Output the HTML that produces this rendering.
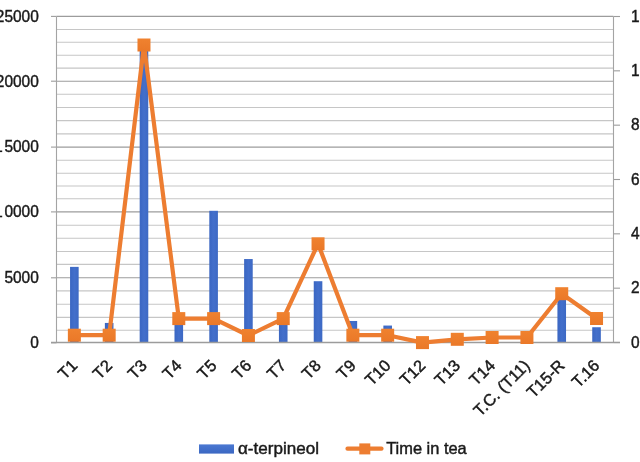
<!DOCTYPE html><html><head><meta charset="utf-8"><style>html,body{margin:0;padding:0;background:#fff;overflow:hidden}svg{display:block;filter:blur(0.35px)}</style></head><body><svg width="640" height="462" viewBox="0 0 640 462"><defs><linearGradient id="bg" x1="0" y1="0" x2="1" y2="0"><stop offset="0" stop-color="#3A66C2"/><stop offset="0.5" stop-color="#436FCB"/><stop offset="1" stop-color="#3D69C4"/></linearGradient><linearGradient id="lg" x1="0" y1="0" x2="0" y2="1"><stop offset="0" stop-color="#4A78D2"/><stop offset="1" stop-color="#3B67C2"/></linearGradient><linearGradient id="og" x1="0" y1="0" x2="0" y2="1"><stop offset="0" stop-color="#F0822F"/><stop offset="1" stop-color="#EA7828"/></linearGradient></defs><rect width="640" height="462" fill="#fff"/><line x1="56.5" x2="613.5" y1="330.30" y2="330.30" stroke="#C6C6C6" stroke-width="1.1"/><line x1="56.5" x2="613.5" y1="317.40" y2="317.40" stroke="#C6C6C6" stroke-width="1.1"/><line x1="56.5" x2="613.5" y1="304.30" y2="304.30" stroke="#C6C6C6" stroke-width="1.1"/><line x1="56.5" x2="613.5" y1="290.90" y2="290.90" stroke="#C6C6C6" stroke-width="1.1"/><line x1="56.5" x2="613.5" y1="277.80" y2="277.80" stroke="#9C9C9C" stroke-width="1.1"/><line x1="56.5" x2="613.5" y1="264.40" y2="264.40" stroke="#C6C6C6" stroke-width="1.1"/><line x1="56.5" x2="613.5" y1="251.50" y2="251.50" stroke="#C6C6C6" stroke-width="1.1"/><line x1="56.5" x2="613.5" y1="238.20" y2="238.20" stroke="#C6C6C6" stroke-width="1.1"/><line x1="56.5" x2="613.5" y1="225.20" y2="225.20" stroke="#C6C6C6" stroke-width="1.1"/><line x1="56.5" x2="613.5" y1="211.90" y2="211.90" stroke="#9C9C9C" stroke-width="1.1"/><line x1="56.5" x2="613.5" y1="198.80" y2="198.80" stroke="#C6C6C6" stroke-width="1.1"/><line x1="56.5" x2="613.5" y1="186.00" y2="186.00" stroke="#C6C6C6" stroke-width="1.1"/><line x1="56.5" x2="613.5" y1="173.20" y2="173.20" stroke="#C6C6C6" stroke-width="1.1"/><line x1="56.5" x2="613.5" y1="160.20" y2="160.20" stroke="#C6C6C6" stroke-width="1.1"/><line x1="56.5" x2="613.5" y1="147.10" y2="147.10" stroke="#9C9C9C" stroke-width="1.1"/><line x1="56.5" x2="613.5" y1="133.90" y2="133.90" stroke="#C6C6C6" stroke-width="1.1"/><line x1="56.5" x2="613.5" y1="120.60" y2="120.60" stroke="#C6C6C6" stroke-width="1.1"/><line x1="56.5" x2="613.5" y1="107.50" y2="107.50" stroke="#C6C6C6" stroke-width="1.1"/><line x1="56.5" x2="613.5" y1="94.30" y2="94.30" stroke="#C6C6C6" stroke-width="1.1"/><line x1="56.5" x2="613.5" y1="81.20" y2="81.20" stroke="#9C9C9C" stroke-width="1.1"/><line x1="56.5" x2="613.5" y1="68.10" y2="68.10" stroke="#C6C6C6" stroke-width="1.1"/><line x1="56.5" x2="613.5" y1="55.20" y2="55.20" stroke="#C6C6C6" stroke-width="1.1"/><line x1="56.5" x2="613.5" y1="42.20" y2="42.20" stroke="#C6C6C6" stroke-width="1.1"/><line x1="56.5" x2="613.5" y1="29.50" y2="29.50" stroke="#C6C6C6" stroke-width="1.1"/><line x1="56.5" x2="613.5" y1="16.40" y2="16.40" stroke="#9C9C9C" stroke-width="1.1"/><line x1="51" x2="56.5" y1="342.80" y2="342.80" stroke="#9C9C9C" stroke-width="1.1"/><line x1="51" x2="56.5" y1="277.80" y2="277.80" stroke="#9C9C9C" stroke-width="1.1"/><line x1="51" x2="56.5" y1="211.90" y2="211.90" stroke="#9C9C9C" stroke-width="1.1"/><line x1="51" x2="56.5" y1="147.10" y2="147.10" stroke="#9C9C9C" stroke-width="1.1"/><line x1="51" x2="56.5" y1="81.20" y2="81.20" stroke="#9C9C9C" stroke-width="1.1"/><line x1="51" x2="56.5" y1="16.40" y2="16.40" stroke="#9C9C9C" stroke-width="1.1"/><line x1="613.5" x2="620" y1="342.50" y2="342.50" stroke="#9C9C9C" stroke-width="1.1"/><line x1="613.5" x2="620" y1="288.17" y2="288.17" stroke="#9C9C9C" stroke-width="1.1"/><line x1="613.5" x2="620" y1="233.83" y2="233.83" stroke="#9C9C9C" stroke-width="1.1"/><line x1="613.5" x2="620" y1="179.50" y2="179.50" stroke="#9C9C9C" stroke-width="1.1"/><line x1="613.5" x2="620" y1="125.17" y2="125.17" stroke="#9C9C9C" stroke-width="1.1"/><line x1="613.5" x2="620" y1="70.83" y2="70.83" stroke="#9C9C9C" stroke-width="1.1"/><line x1="613.5" x2="620" y1="16.50" y2="16.50" stroke="#9C9C9C" stroke-width="1.1"/><line x1="56.5" x2="56.5" y1="16.5" y2="342.5" stroke="#A4A4A4" stroke-width="1.1"/><line x1="613.5" x2="613.5" y1="16.5" y2="342.5" stroke="#A4A4A4" stroke-width="1.1"/><rect x="70.06" y="266.87" width="8.6" height="75.63" fill="url(#bg)"/><rect x="104.87" y="322.94" width="8.6" height="19.56" fill="url(#bg)"/><rect x="139.68" y="45.19" width="8.6" height="297.31" fill="url(#bg)"/><rect x="174.49" y="321.64" width="8.6" height="20.86" fill="url(#bg)"/><rect x="209.31" y="210.80" width="8.6" height="131.70" fill="url(#bg)"/><rect x="244.12" y="259.04" width="8.6" height="83.46" fill="url(#bg)"/><rect x="278.93" y="324.24" width="8.6" height="18.26" fill="url(#bg)"/><rect x="313.74" y="281.21" width="8.6" height="61.29" fill="url(#bg)"/><rect x="348.56" y="320.98" width="8.6" height="21.52" fill="url(#bg)"/><rect x="383.37" y="325.55" width="8.6" height="16.95" fill="url(#bg)"/><rect x="557.43" y="295.56" width="8.6" height="46.94" fill="url(#bg)"/><rect x="592.24" y="327.24" width="8.6" height="15.26" fill="url(#bg)"/><line x1="51" x2="620" y1="342.5" y2="342.5" stroke="#9C9C9C" stroke-width="1.3"/><polyline points="74.36,335.20 109.17,335.20 143.98,45.00 178.79,318.60 213.61,318.60 248.42,335.50 283.23,318.60 318.04,243.80 352.86,335.20 387.67,335.20 422.48,342.60 457.29,339.30 492.11,337.50 526.92,337.50 561.73,293.70 596.54,318.50" fill="none" stroke="#ED7D31" stroke-width="4.2" stroke-linejoin="round"/><rect x="67.86" y="328.70" width="13" height="13" fill="url(#og)"/><rect x="102.67" y="328.70" width="13" height="13" fill="url(#og)"/><rect x="137.48" y="38.50" width="13" height="13" fill="url(#og)"/><rect x="172.29" y="312.10" width="13" height="13" fill="url(#og)"/><rect x="207.11" y="312.10" width="13" height="13" fill="url(#og)"/><rect x="241.92" y="329.00" width="13" height="13" fill="url(#og)"/><rect x="276.73" y="312.10" width="13" height="13" fill="url(#og)"/><rect x="311.54" y="237.30" width="13" height="13" fill="url(#og)"/><rect x="346.36" y="328.70" width="13" height="13" fill="url(#og)"/><rect x="381.17" y="328.70" width="13" height="13" fill="url(#og)"/><rect x="415.98" y="336.10" width="13" height="13" fill="url(#og)"/><rect x="450.79" y="332.80" width="13" height="13" fill="url(#og)"/><rect x="485.61" y="331.00" width="13" height="13" fill="url(#og)"/><rect x="520.42" y="331.00" width="13" height="13" fill="url(#og)"/><rect x="555.23" y="287.20" width="13" height="13" fill="url(#og)"/><rect x="590.04" y="312.00" width="13" height="13" fill="url(#og)"/><text x="38.8" y="347.70" text-anchor="end" textLength="8.6" lengthAdjust="spacingAndGlyphs" font-family='"Liberation Sans", sans-serif' font-size="17" fill="#1a1a1a" stroke="#1a1a1a" stroke-width="0.45">0</text><text x="38.8" y="282.50" text-anchor="end" textLength="34.4" lengthAdjust="spacingAndGlyphs" font-family='"Liberation Sans", sans-serif' font-size="17" fill="#1a1a1a" stroke="#1a1a1a" stroke-width="0.45">5000</text><rect x="0" y="215.70" width="2.2" height="1.6" fill="#1a1a1a"/><text x="38.8" y="217.30" text-anchor="end" textLength="34.4" lengthAdjust="spacingAndGlyphs" font-family='"Liberation Sans", sans-serif' font-size="17" fill="#1a1a1a" stroke="#1a1a1a" stroke-width="0.45">0000</text><rect x="0" y="150.50" width="2.2" height="1.6" fill="#1a1a1a"/><text x="38.8" y="152.10" text-anchor="end" textLength="34.4" lengthAdjust="spacingAndGlyphs" font-family='"Liberation Sans", sans-serif' font-size="17" fill="#1a1a1a" stroke="#1a1a1a" stroke-width="0.45">5000</text><text x="38.8" y="86.90" text-anchor="end" textLength="43.0" lengthAdjust="spacingAndGlyphs" font-family='"Liberation Sans", sans-serif' font-size="17" fill="#1a1a1a" stroke="#1a1a1a" stroke-width="0.45">20000</text><text x="38.8" y="21.70" text-anchor="end" textLength="43.0" lengthAdjust="spacingAndGlyphs" font-family='"Liberation Sans", sans-serif' font-size="17" fill="#1a1a1a" stroke="#1a1a1a" stroke-width="0.45">25000</text><text x="631.0" y="347.70" textLength="8.6" lengthAdjust="spacingAndGlyphs" font-family='"Liberation Sans", sans-serif' font-size="17" fill="#1a1a1a" stroke="#1a1a1a" stroke-width="0.45">0</text><text x="631.0" y="293.37" textLength="8.6" lengthAdjust="spacingAndGlyphs" font-family='"Liberation Sans", sans-serif' font-size="17" fill="#1a1a1a" stroke="#1a1a1a" stroke-width="0.45">2</text><text x="631.0" y="239.03" textLength="8.6" lengthAdjust="spacingAndGlyphs" font-family='"Liberation Sans", sans-serif' font-size="17" fill="#1a1a1a" stroke="#1a1a1a" stroke-width="0.45">4</text><text x="631.0" y="184.70" textLength="8.6" lengthAdjust="spacingAndGlyphs" font-family='"Liberation Sans", sans-serif' font-size="17" fill="#1a1a1a" stroke="#1a1a1a" stroke-width="0.45">6</text><text x="631.0" y="130.37" textLength="8.6" lengthAdjust="spacingAndGlyphs" font-family='"Liberation Sans", sans-serif' font-size="17" fill="#1a1a1a" stroke="#1a1a1a" stroke-width="0.45">8</text><text x="631.0" y="76.03" textLength="8.6" lengthAdjust="spacingAndGlyphs" font-family='"Liberation Sans", sans-serif' font-size="17" fill="#1a1a1a" stroke="#1a1a1a" stroke-width="0.45">1</text><text x="631.0" y="21.70" textLength="8.6" lengthAdjust="spacingAndGlyphs" font-family='"Liberation Sans", sans-serif' font-size="17" fill="#1a1a1a" stroke="#1a1a1a" stroke-width="0.45">1</text><text transform="translate(70.21,358.5) rotate(-45)" x="0" y="0" dy="11.5" text-anchor="end" font-family='"Liberation Sans", sans-serif' font-size="16.4" fill="#1a1a1a" stroke="#1a1a1a" stroke-width="0.45">T1</text><text transform="translate(105.02,358.5) rotate(-45)" x="0" y="0" dy="11.5" text-anchor="end" font-family='"Liberation Sans", sans-serif' font-size="16.4" fill="#1a1a1a" stroke="#1a1a1a" stroke-width="0.45">T2</text><text transform="translate(139.83,358.5) rotate(-45)" x="0" y="0" dy="11.5" text-anchor="end" font-family='"Liberation Sans", sans-serif' font-size="16.4" fill="#1a1a1a" stroke="#1a1a1a" stroke-width="0.45">T3</text><text transform="translate(174.64,358.5) rotate(-45)" x="0" y="0" dy="11.5" text-anchor="end" font-family='"Liberation Sans", sans-serif' font-size="16.4" fill="#1a1a1a" stroke="#1a1a1a" stroke-width="0.45">T4</text><text transform="translate(209.46,358.5) rotate(-45)" x="0" y="0" dy="11.5" text-anchor="end" font-family='"Liberation Sans", sans-serif' font-size="16.4" fill="#1a1a1a" stroke="#1a1a1a" stroke-width="0.45">T5</text><text transform="translate(244.27,358.5) rotate(-45)" x="0" y="0" dy="11.5" text-anchor="end" font-family='"Liberation Sans", sans-serif' font-size="16.4" fill="#1a1a1a" stroke="#1a1a1a" stroke-width="0.45">T6</text><text transform="translate(279.08,358.5) rotate(-45)" x="0" y="0" dy="11.5" text-anchor="end" font-family='"Liberation Sans", sans-serif' font-size="16.4" fill="#1a1a1a" stroke="#1a1a1a" stroke-width="0.45">T7</text><text transform="translate(313.89,358.5) rotate(-45)" x="0" y="0" dy="11.5" text-anchor="end" font-family='"Liberation Sans", sans-serif' font-size="16.4" fill="#1a1a1a" stroke="#1a1a1a" stroke-width="0.45">T8</text><text transform="translate(348.71,358.5) rotate(-45)" x="0" y="0" dy="11.5" text-anchor="end" font-family='"Liberation Sans", sans-serif' font-size="16.4" fill="#1a1a1a" stroke="#1a1a1a" stroke-width="0.45">T9</text><text transform="translate(383.52,358.5) rotate(-45)" x="0" y="0" dy="11.5" text-anchor="end" font-family='"Liberation Sans", sans-serif' font-size="16.4" fill="#1a1a1a" stroke="#1a1a1a" stroke-width="0.45">T10</text><text transform="translate(418.33,358.5) rotate(-45)" x="0" y="0" dy="11.5" text-anchor="end" font-family='"Liberation Sans", sans-serif' font-size="16.4" fill="#1a1a1a" stroke="#1a1a1a" stroke-width="0.45">T12</text><text transform="translate(453.14,358.5) rotate(-45)" x="0" y="0" dy="11.5" text-anchor="end" font-family='"Liberation Sans", sans-serif' font-size="16.4" fill="#1a1a1a" stroke="#1a1a1a" stroke-width="0.45">T13</text><text transform="translate(487.96,358.5) rotate(-45)" x="0" y="0" dy="11.5" text-anchor="end" font-family='"Liberation Sans", sans-serif' font-size="16.4" fill="#1a1a1a" stroke="#1a1a1a" stroke-width="0.45">T14</text><text transform="translate(522.77,358.5) rotate(-45)" x="0" y="0" dy="11.5" text-anchor="end" font-family='"Liberation Sans", sans-serif' font-size="16.4" fill="#1a1a1a" stroke="#1a1a1a" stroke-width="0.45">T.C. (T11)</text><text transform="translate(557.58,358.5) rotate(-45)" x="0" y="0" dy="11.5" text-anchor="end" font-family='"Liberation Sans", sans-serif' font-size="16.4" fill="#1a1a1a" stroke="#1a1a1a" stroke-width="0.45">T15-R</text><text transform="translate(592.39,358.5) rotate(-45)" x="0" y="0" dy="11.5" text-anchor="end" font-family='"Liberation Sans", sans-serif' font-size="16.4" fill="#1a1a1a" stroke="#1a1a1a" stroke-width="0.45">T.16</text><rect x="199" y="444.4" width="35" height="9.2" fill="url(#lg)"/><text x="238" y="454" textLength="81" lengthAdjust="spacingAndGlyphs" font-family='"Liberation Sans", sans-serif' font-size="17" fill="#1a1a1a" stroke="#1a1a1a" stroke-width="0.45">α-terpineol</text><line x1="347.5" x2="381.5" y1="448.7" y2="448.7" stroke="#ED7D31" stroke-width="4.2" stroke-linecap="round"/><rect x="359.3" y="443.4" width="11" height="11" fill="#ED7D31"/><text x="386.2" y="454" textLength="80.5" lengthAdjust="spacingAndGlyphs" font-family='"Liberation Sans", sans-serif' font-size="17" fill="#1a1a1a" stroke="#1a1a1a" stroke-width="0.45">Time in tea</text></svg></body></html>
